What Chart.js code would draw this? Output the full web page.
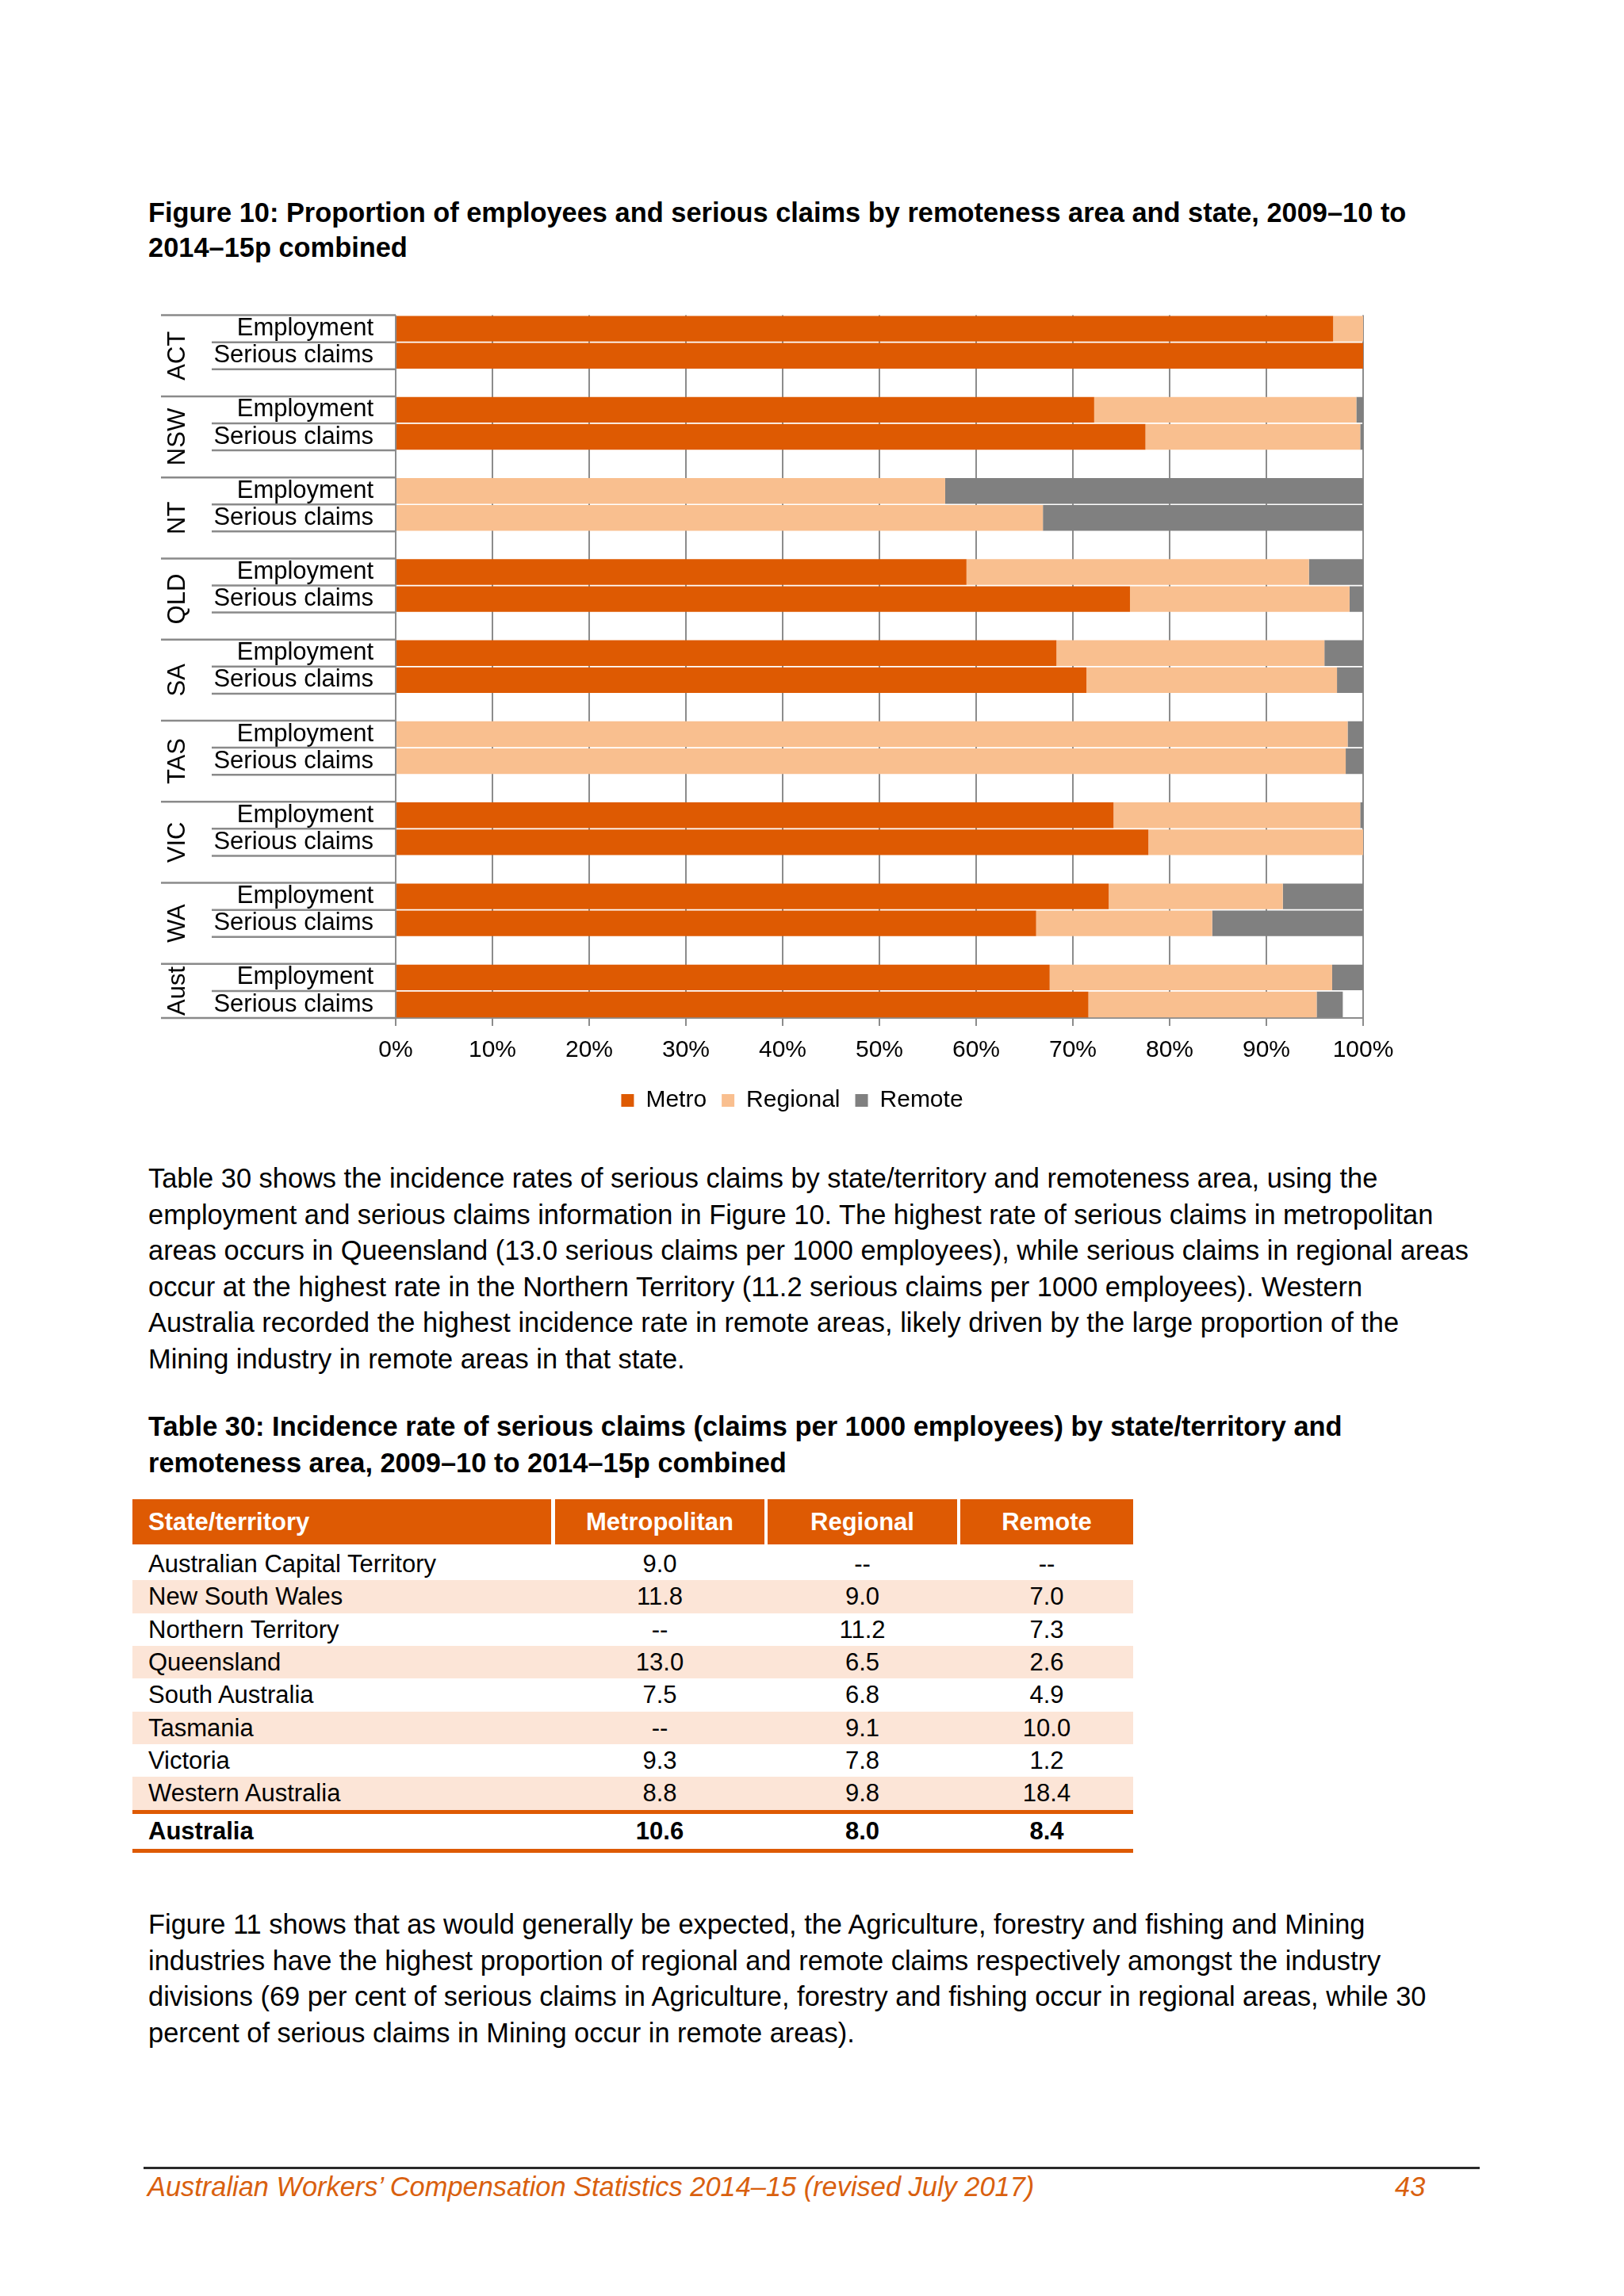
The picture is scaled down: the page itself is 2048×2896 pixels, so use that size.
<!DOCTYPE html>
<html>
<head>
<meta charset="utf-8">
<script src="https://cdn.jsdelivr.net/npm/chart.js@4.4.1/dist/chart.umd.min.js"></script>
<style>
  html, body { margin: 0; padding: 0; background: #fff; }
  body { width: 2048px; height: 2896px; position: relative; overflow: hidden;
         font-family: "Liberation Sans", Arial, sans-serif; color: #000; }
  .line { position: absolute; left: 187px; white-space: nowrap; font-size: 34.4px; height: 45.6px; line-height: 45.6px; }
  .bold { font-weight: bold; }
  #chartWrap { position: absolute; left: 180px; top: 351px; width: 1634px; height: 1062px; }
  .cell { position: absolute; box-sizing: border-box; font-size: 31px; white-space: nowrap; }
  .hdr { background: #DE5A03; color: #fff; font-weight: bold; height: 57px; line-height: 57px; }
  .shade { position: absolute; left: 167px; width: 1262px; background: #FCE5D7; }
  .rule { position: absolute; left: 167px; width: 1262px; height: 5px; background: #DE5A03; }
  .footer { position: absolute; font-style: italic; color: #D9600E; font-size: 34.4px; line-height: 45.6px; white-space: nowrap; }
</style>
</head>
<body>
<div id="texts"></div>
<div id="chartWrap"><canvas id="c" width="1634" height="1062" style="width:1634px;height:1062px"></canvas></div>
<div id="table"></div>
<div style="position:absolute;left:181px;top:2733px;width:1685px;height:3px;background:#2a2a2a"></div>
<div class="footer" style="left:186px;top:2736px">Australian Workers’ Compensation Statistics 2014–15 (revised July 2017)</div>
<div class="footer" style="left:1759px;top:2736px">43</div>

<script>
// ---------- chart data (percent of each bar) ----------
const states = ['ACT', 'NSW', 'NT', 'QLD', 'SA', 'TAS', 'VIC', 'WA', 'Aust'];
const measures = ['Employment', 'Serious claims'];
const metroEmployment    = [96.9, 72.2, 0,    59.0, 68.3, 0,    74.2, 73.7, 67.6];
const metroClaims        = [100,  77.5, 0,    75.9, 71.4, 0,    77.8, 66.2, 71.6];
const regionalEmployment = [3.1,  27.1, 56.8, 35.4, 27.7, 98.4, 25.5, 18.0, 29.2];
const regionalClaims     = [0,    22.2, 66.9, 22.7, 25.9, 98.2, 22.2, 18.2, 23.6];
const remoteEmployment   = [0,    0.7,  43.2, 5.6,  4.0,  1.6,  0.3,  8.3,  3.2];
const remoteClaims       = [0,    0.3,  33.1, 1.4,  2.7,  1.8,  0,    15.6, 2.7];
const xTicks = [0, 10, 20, 30, 40, 50, 60, 70, 80, 90, 100];
const seriesNames = ['Metro', 'Regional', 'Remote'];

// ---------- table data ----------
const tableHeader = ['State/territory', 'Metropolitan', 'Regional', 'Remote'];
const tableStates = ['Australian Capital Territory', 'New South Wales', 'Northern Territory', 'Queensland',
                     'South Australia', 'Tasmania', 'Victoria', 'Western Australia'];
const rateMetro    = ['9.0', '11.8', '--', '13.0', '7.5', '--', '9.3', '8.8'];
const rateRegional = ['--', '9.0', '11.2', '6.5', '6.8', '9.1', '7.8', '9.8'];
const rateRemote   = ['--', '7.0', '7.3', '2.6', '4.9', '10.0', '1.2', '18.4'];
const rateTotal    = ['Australia', '10.6', '8.0', '8.4'];

// ---------- text ----------
const titleLines = ['Figure 10: Proportion of employees and serious claims by remoteness area and state, 2009–10 to',
                    '2014–15p combined'];
const para1 = ['Table 30 shows the incidence rates of serious claims by state/territory and remoteness area, using the',
  'employment and serious claims information in Figure 10. The highest rate of serious claims in metropolitan',
  'areas occurs in Queensland (13.0 serious claims per 1000 employees), while serious claims in regional areas',
  'occur at the highest rate in the Northern Territory (11.2 serious claims per 1000 employees). Western',
  'Australia recorded the highest incidence rate in remote areas, likely driven by the large proportion of the',
  'Mining industry in remote areas in that state.'];
const tableTitle = ['Table 30: Incidence rate of serious claims (claims per 1000 employees) by state/territory and',
                    'remoteness area, 2009–10 to 2014–15p combined'];
const para2 = ['Figure 11 shows that as would generally be expected, the Agriculture, forestry and fishing and Mining',
  'industries have the highest proportion of regional and remote claims respectively amongst the industry',
  'divisions (69 per cent of serious claims in Agriculture, forestry and fishing occur in regional areas, while 30',
  'percent of serious claims in Mining occur in remote areas).'];

const texts = document.getElementById('texts');
function addLines(lines, top, step, bold) {
  lines.forEach((t, i) => {
    const d = document.createElement('div');
    d.className = 'line' + (bold ? ' bold' : '');
    d.style.top = (top + i * step) + 'px';
    d.textContent = t;
    texts.appendChild(d);
  });
}
addLines(titleLines, 246, 44, true);
addLines(para1, 1464, 45.6, false);
addLines(tableTitle, 1777, 45.6, true);
addLines(para2, 2405, 45.6, false);

// ---------- table ----------
const tbl = document.getElementById('table');
const colL = [167, 700, 968, 1211];
const colR = [695, 964, 1207, 1429];
function cell(text, col, top, h, cls, extraStyle) {
  const d = document.createElement('div');
  d.className = 'cell ' + (cls || '');
  d.style.left = colL[col] + 'px';
  d.style.width = (colR[col] - colL[col]) + 'px';
  d.style.top = top + 'px';
  d.style.height = h + 'px';
  d.style.lineHeight = h + 'px';
  if (col === 0) { d.style.paddingLeft = '20px'; } else { d.style.textAlign = 'center'; }
  if (extraStyle) Object.assign(d.style, extraStyle);
  d.textContent = text;
  tbl.appendChild(d);
}
tableHeader.forEach((h, i) => cell(h, i, 1891, 57, 'hdr'));
const rowTop0 = 1952, rowH = 41.35;
tableStates.forEach((s, r) => {
  const top = rowTop0 + r * rowH;
  if (r % 2 === 1) {
    const sh = document.createElement('div');
    sh.className = 'shade';
    sh.style.top = top + 'px'; sh.style.height = rowH + 'px';
    tbl.appendChild(sh);
  }
  [s, rateMetro[r], rateRegional[r], rateRemote[r]].forEach((v, c) => cell(v, c, top, rowH));
});
const ruleTop = rowTop0 + tableStates.length * rowH;
const r1 = document.createElement('div'); r1.className = 'rule'; r1.style.top = ruleTop + 'px'; tbl.appendChild(r1);
rateTotal.forEach((v, c) => cell(v, c, ruleTop + 5, 44, '', { fontWeight: 'bold' }));
const r2 = document.createElement('div'); r2.className = 'rule'; r2.style.top = (ruleTop + 49) + 'px'; tbl.appendChild(r2);

// ---------- build chart rows (two bars per state, blank spacer between states) ----------
const labels = [], metro = [], regional = [], remote = [];
states.forEach((s, i) => {
  labels.push(measures[0]); metro.push(metroEmployment[i]); regional.push(regionalEmployment[i]); remote.push(remoteEmployment[i]);
  labels.push(measures[1]); metro.push(metroClaims[i]); regional.push(regionalClaims[i]); remote.push(remoteClaims[i]);
  if (i < states.length - 1) { labels.push(''); metro.push(null); regional.push(null); remote.push(null); }
});

const COL_METRO = '#DE5A02', COL_REG = '#F9BF8F', COL_REM = '#808080', GRID = '#8c8c8c';
const FONT = '"Liberation Sans", Arial, sans-serif';
Chart.defaults.font.family = FONT;
Chart.defaults.color = '#000';

const groupAxis = {
  id: 'groupAxis',
  afterLayout(chart) {
    // centre the legend under the whole figure (state column included), as in the original
    const shift = 49.5;
    if (chart.legend) { chart.legend.left += shift; chart.legend.right += shift; }
  },
  afterDraw(chart) {
    const y = chart.scales.y, ctx = chart.ctx;
    const left = chart.chartArea.left;
    const slot = y.getPixelForValue(1) - y.getPixelForValue(0);
    const xLong = left - 296, xShort = left - 232, xLabel = left - 275;
    ctx.save();
    ctx.strokeStyle = '#8a8a8a';
    ctx.lineWidth = 2.5;
    const hline = (x0, yy) => { ctx.beginPath(); ctx.moveTo(x0, yy); ctx.lineTo(left, yy); ctx.stroke(); };
    states.forEach((s, g) => {
      const i0 = g * 3;
      const top = y.getPixelForValue(i0) - slot / 2;
      const mid = top + slot, bot = top + 2 * slot;
      const last = g === states.length - 1;
      const next = last ? bot : y.getPixelForValue(i0 + 3) - slot / 2;
      hline(xLong, top);
      hline(xShort, mid);
      hline(last ? xLong : xShort, bot);
      ctx.save();
      ctx.translate(xLabel, (top + next) / 2);
      ctx.rotate(-Math.PI / 2);
      ctx.fillStyle = '#000';
      ctx.font = '31px ' + FONT;
      ctx.textAlign = 'center';
      ctx.textBaseline = 'middle';
      ctx.fillText(s, 0, 0);
      ctx.restore();
    });
    ctx.restore();
  }
};

new Chart(document.getElementById('c'), {
  type: 'bar',
  data: {
    labels: labels,
    datasets: [
      { label: seriesNames[0], data: metro, backgroundColor: COL_METRO },
      { label: seriesNames[1], data: regional, backgroundColor: COL_REG },
      { label: seriesNames[2], data: remote, backgroundColor: COL_REM }
    ]
  },
  options: {
    indexAxis: 'y',
    responsive: false,
    animation: false,
    layout: { padding: { top: 0, left: 0, right: 95, bottom: 0 } },
    datasets: { bar: { barPercentage: 0.95, categoryPercentage: 1.0 } },
    scales: {
      x: {
        stacked: true, min: 0, max: 100,
        afterBuildTicks: (sc) => { sc.ticks = xTicks.map(v => ({ value: v })); },
        afterFit: (sc) => { sc.height = 70; },
        ticks: { callback: v => v + '%', font: { size: 30 }, padding: 13, color: '#000', maxRotation: 0 },
        grid: { color: GRID, lineWidth: 2, tickLength: 10, drawTicks: true },
        border: { display: true, color: GRID, width: 2 }
      },
      y: {
        stacked: true,
        afterFit: (sc) => { sc.width = 319; },
        ticks: { font: { size: 31 }, padding: 28, autoSkip: false, color: '#000' },
        grid: { display: false, drawTicks: false },
        border: { display: false }
      }
    },
    plugins: {
      legend: {
        position: 'bottom',
        labels: { boxWidth: 16, boxHeight: 16, padding: 19, font: { size: 30 }, color: '#000' }
      },
      tooltip: { enabled: false }
    }
  },
  plugins: [groupAxis]
});
</script>
</body>
</html>
